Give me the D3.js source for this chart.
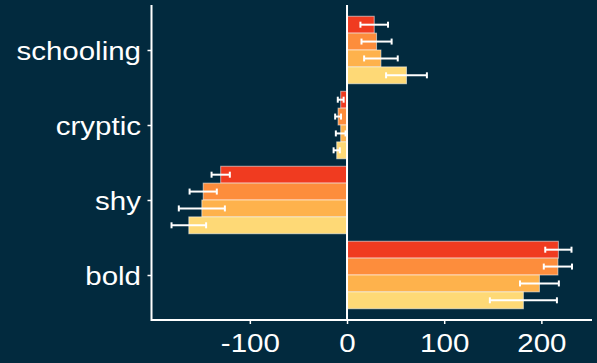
<!DOCTYPE html>
<html>
<head>
<meta charset="utf-8">
<script src="https://cdn.jsdelivr.net/npm/d3@7"></script>
<style>
  html, body { margin: 0; padding: 0; background: #022a3e; }
  svg { display: block; }
  text { font-family: "Liberation Sans", Arial, sans-serif; fill: #ffffff; }
</style>
</head>
<body>
<svg id="chart" width="597" height="363"></svg>
<script>
// Behaviour types, listed bottom to top
const categories = ["bold", "shy", "cryptic", "schooling"];
// Four treatment groups, drawn top to bottom inside each behaviour
const groups = ["g1", "g2", "g3", "g4"];
const colors = ["#f03b20", "#fd8d3c", "#feb24c", "#fed976"];

// Mean response per behaviour (rows follow categories, columns follow groups)
const boldMeans      = [217.5, 217.0, 198.0, 181.5];
const shyMeans       = [-130.0, -148.0, -149.4, -162.8];
const crypticMeans   = [-6.5, -9.2, -6.5, -10.6];
const schoolingMeans = [28.0, 30.4, 34.9, 61.2];

// Standard errors for the same cells
const boldSE      = [13.5, 14.5, 20.0, 34.5];
const shySE       = [9.4, 14.0, 23.7, 17.8];
const crypticSE   = [3.0, 3.0, 5.0, 3.2];
const schoolingSE = [14.2, 15.5, 17.3, 21.0];

const xTicks = [-100, 0, 100, 200];

const means = [boldMeans, shyMeans, crypticMeans, schoolingMeans];
const ses = [boldSE, shySE, crypticSE, schoolingSE];

const rows = [];
categories.forEach((c, ci) => {
  groups.forEach((g, gi) => {
    rows.push({ cat: c, ci, gi, value: means[ci][gi], se: ses[ci][gi] });
  });
});

const svg = d3.select("#chart");
const plotLeft = 151.5, plotRight = 592, plotTop = 5, plotBottom = 320;
const textScaleX = 1.18;

// Horizontal value scale with a 5% margin either side of the data
const lo = d3.min(rows, d => Math.min(d.value - d.se, 0));
const hi = d3.max(rows, d => Math.max(d.value + d.se, 0));
const pad = (hi - lo) * 0.05;
const x = d3.scaleLinear().domain([lo - pad, hi + pad]).range([plotLeft, plotRight]);

// Vertical position: categories at 1..4, with 0.6 units of space at each end
const y = d3.scaleLinear().domain([0.4, categories.length + 0.6]).range([plotBottom, plotTop]);
const dodge = 0.9, barW = dodge / groups.length;
// group 0 sits at the top of its band, group 3 at the bottom
const barTop = d => (d.ci + 1) + dodge / 2 - d.gi * barW;

// Bars
svg.append("g").selectAll("rect").data(rows).join("rect")
  .attr("x", d => x(Math.min(0, d.value)))
  .attr("width", d => Math.abs(x(d.value) - x(0)))
  .attr("y", d => y(barTop(d)))
  .attr("height", d => y(barTop(d) - barW) - y(barTop(d)))
  .attr("fill", d => colors[d.gi])
  .attr("stroke", "rgba(255,255,255,0.55)")
  .attr("stroke-width", 1);

// Error bars
const eb = svg.append("g").attr("stroke", "#ffffff").attr("stroke-width", 2).attr("fill", "none");
rows.forEach(d => {
  const cy = y(barTop(d) - barW / 2);
  const x0 = x(d.value - d.se), x1 = x(d.value + d.se);
  eb.append("line").attr("x1", x0).attr("x2", x1).attr("y1", cy).attr("y2", cy);
  eb.append("line").attr("x1", x0).attr("x2", x0).attr("y1", cy - 3).attr("y2", cy + 3);
  eb.append("line").attr("x1", x1).attr("x2", x1).attr("y1", cy - 3).attr("y2", cy + 3);
});

// Zero reference line
svg.append("line")
  .attr("x1", x(0)).attr("x2", x(0)).attr("y1", plotTop).attr("y2", plotBottom)
  .attr("stroke", "#ffffff").attr("stroke-width", 2);

// Bottom axis
const xAxis = svg.append("g").attr("transform", `translate(0,${plotBottom})`)
  .call(d3.axisBottom(x).tickValues(xTicks).tickSize(4).tickSizeOuter(0).tickPadding(4)
    .tickFormat(d3.format("d")));
xAxis.select(".domain").attr("stroke", "#ffffff").attr("stroke-width", 2)
  .attr("d", `M${plotLeft},0H${plotRight}`);
xAxis.selectAll(".tick line").attr("stroke", "#ffffff").attr("stroke-width", 1.5);
xAxis.selectAll(".tick text")
  .attr("font-size", 25).attr("dy", 0).attr("y", 0)
  .attr("transform", `translate(0,31.5) scale(${textScaleX},1)`)
  .text(d => d < 0 ? "-" + Math.abs(d) : d);

// Left axis
const yAxis = svg.append("g").attr("transform", `translate(${plotLeft},0)`)
  .call(d3.axisLeft(y).tickValues(categories.map((c, i) => i + 1)).tickSize(4).tickSizeOuter(0)
    .tickFormat(v => categories[v - 1]));
yAxis.select(".domain").attr("stroke", "#ffffff").attr("stroke-width", 2)
  .attr("d", `M0,${plotTop}V${plotBottom + 1}`);
yAxis.selectAll(".tick line").attr("stroke", "#ffffff").attr("stroke-width", 1.5);
yAxis.selectAll(".tick text")
  .attr("font-size", 25).attr("x", 0).attr("dy", 0)
  .attr("transform", `translate(-10.5,9) scale(${textScaleX},1)`);
</script>
</body>
</html>
